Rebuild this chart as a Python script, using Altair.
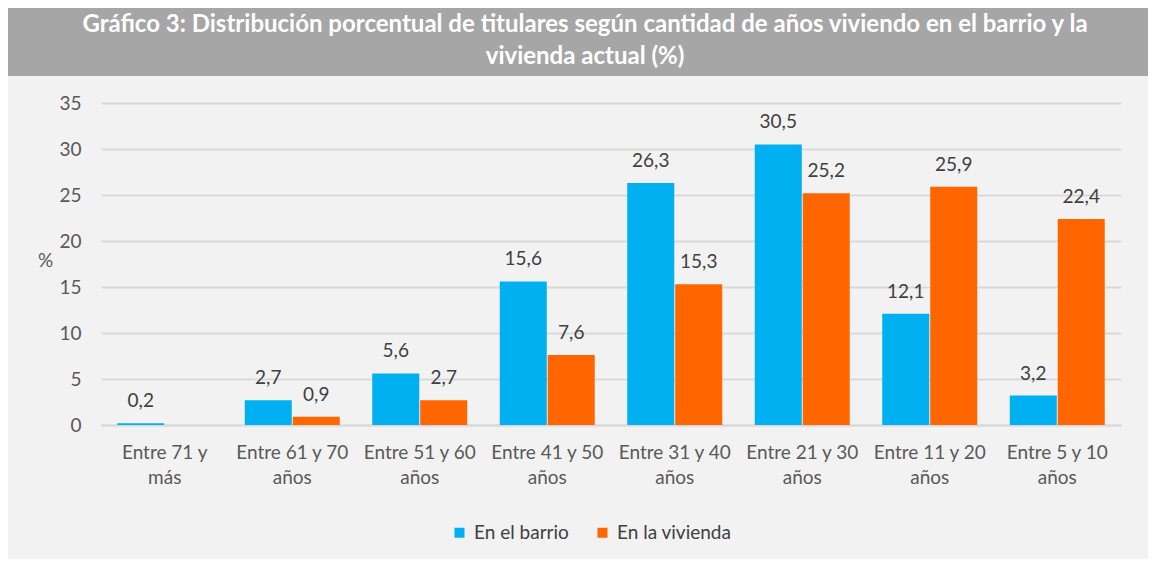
import altair as alt
import pandas as pd

categorias = ["Entre 71 y|más", "Entre 61 y 70|años", "Entre 51 y 60|años", "Entre 41 y 50|años",
              "Entre 31 y 40|años", "Entre 21 y 30|años", "Entre 11 y 20|años", "Entre 5 y 10|años"]
series = ["En el barrio", "En la vivienda"]
barrio = [0.2, 2.7, 5.6, 15.6, 26.3, 30.5, 12.1, 3.2]
vivienda = [None, 0.9, 2.7, 7.6, 15.3, 25.2, 25.9, 22.4]
colores = ["#00B0F0", "#FF6600"]
titulo = ["Gráfico 3: Distribución porcentual de titulares según cantidad de años viviendo en el barrio y la",
          "vivienda actual (%)"]

rows = []
for c, b, v in zip(categorias, barrio, vivienda):
    rows.append({"cat": c, "serie": series[0], "valor": b})
    if v is not None:
        rows.append({"cat": c, "serie": series[1], "valor": v})
df = pd.DataFrame(rows)

FONT = "Lato"
FS = 19
TFS = 24
W, H = 1020, 322

x = alt.X("cat:N", sort=categorias, title=None,
          scale=alt.Scale(paddingInner=0.255, paddingOuter=0.1275),
          axis=alt.Axis(labelExpr="split(datum.label, '|')", labelAngle=0, labelFontSize=FS,
                        labelColor="#595959", labelFont=FONT, labelLineHeight=25, labelPadding=18,
                        ticks=False, domain=True, domainColor="#D9D9D9", domainWidth=2))
xo = alt.XOffset("serie:N", sort=series, scale=alt.Scale(paddingInner=0.02, paddingOuter=0))
y = alt.Y("valor:Q", scale=alt.Scale(domain=[0, 35], nice=False),
          axis=alt.Axis(values=[0, 5, 10, 15, 20, 25, 30, 35], title="%", titleAngle=0,
                        titleX=-56, titleY=167, titleFontWeight="normal", titleFontSize=FS,
                        titleColor="#595959", titleFont=FONT,
                        labelFontSize=FS, labelColor="#595959", labelFont=FONT, labelPadding=20,
                        ticks=False, domain=False, grid=True, gridColor="#D9D9D9", gridWidth=2))

base = alt.Chart(df)
bars = base.mark_bar().encode(
    x=x, xOffset=xo, y=y,
    color=alt.Color("serie:N", scale=alt.Scale(domain=series, range=colores),
                    legend=alt.Legend(title=None, orient="none", legendX=349, legendY=420,
                                      direction="horizontal", symbolType="square", symbolSize=100,
                                      symbolStrokeWidth=0, labelFontSize=FS, labelFont=FONT,
                                      labelColor="#404040", labelOffset=5, columnPadding=24)))
labels = base.transform_calculate(
    lab="replace(format(datum.valor, '.1f'), '.', ',')"
).mark_text(dy=-22, baseline="middle", fontSize=FS, font=FONT, color="#404040").encode(
    x=x, xOffset=xo, y=y, text="lab:N")

banner = alt.Chart(pd.DataFrame({"a": [0]})).mark_rect(color="#A6A6A6").encode(
    x=alt.value(-93), x2=alt.value(1047), y=alt.value(-95), y2=alt.value(-27))
t1 = alt.Chart(pd.DataFrame({"t": [titulo[0]]})).mark_text(
    font=FONT, fontSize=TFS, fontWeight="bold", color="white", baseline="middle", align="center"
).encode(x=alt.value(484), y=alt.value(-78), text="t:N")
t2 = alt.Chart(pd.DataFrame({"t": [titulo[1]]})).mark_text(
    font=FONT, fontSize=TFS, fontWeight="bold", color="white", baseline="middle", align="center"
).encode(x=alt.value(484), y=alt.value(-46), text="t:N")

chart = alt.layer(bars, labels, banner, t1, t2).properties(
    width=W, height=H, padding={"left": 0, "top": 0, "right": 0, "bottom": 16},
    background="#F2F2F2"
).configure_view(stroke=None)

chart.save("out.html", embed_options={"renderer": "svg", "actions": False})
